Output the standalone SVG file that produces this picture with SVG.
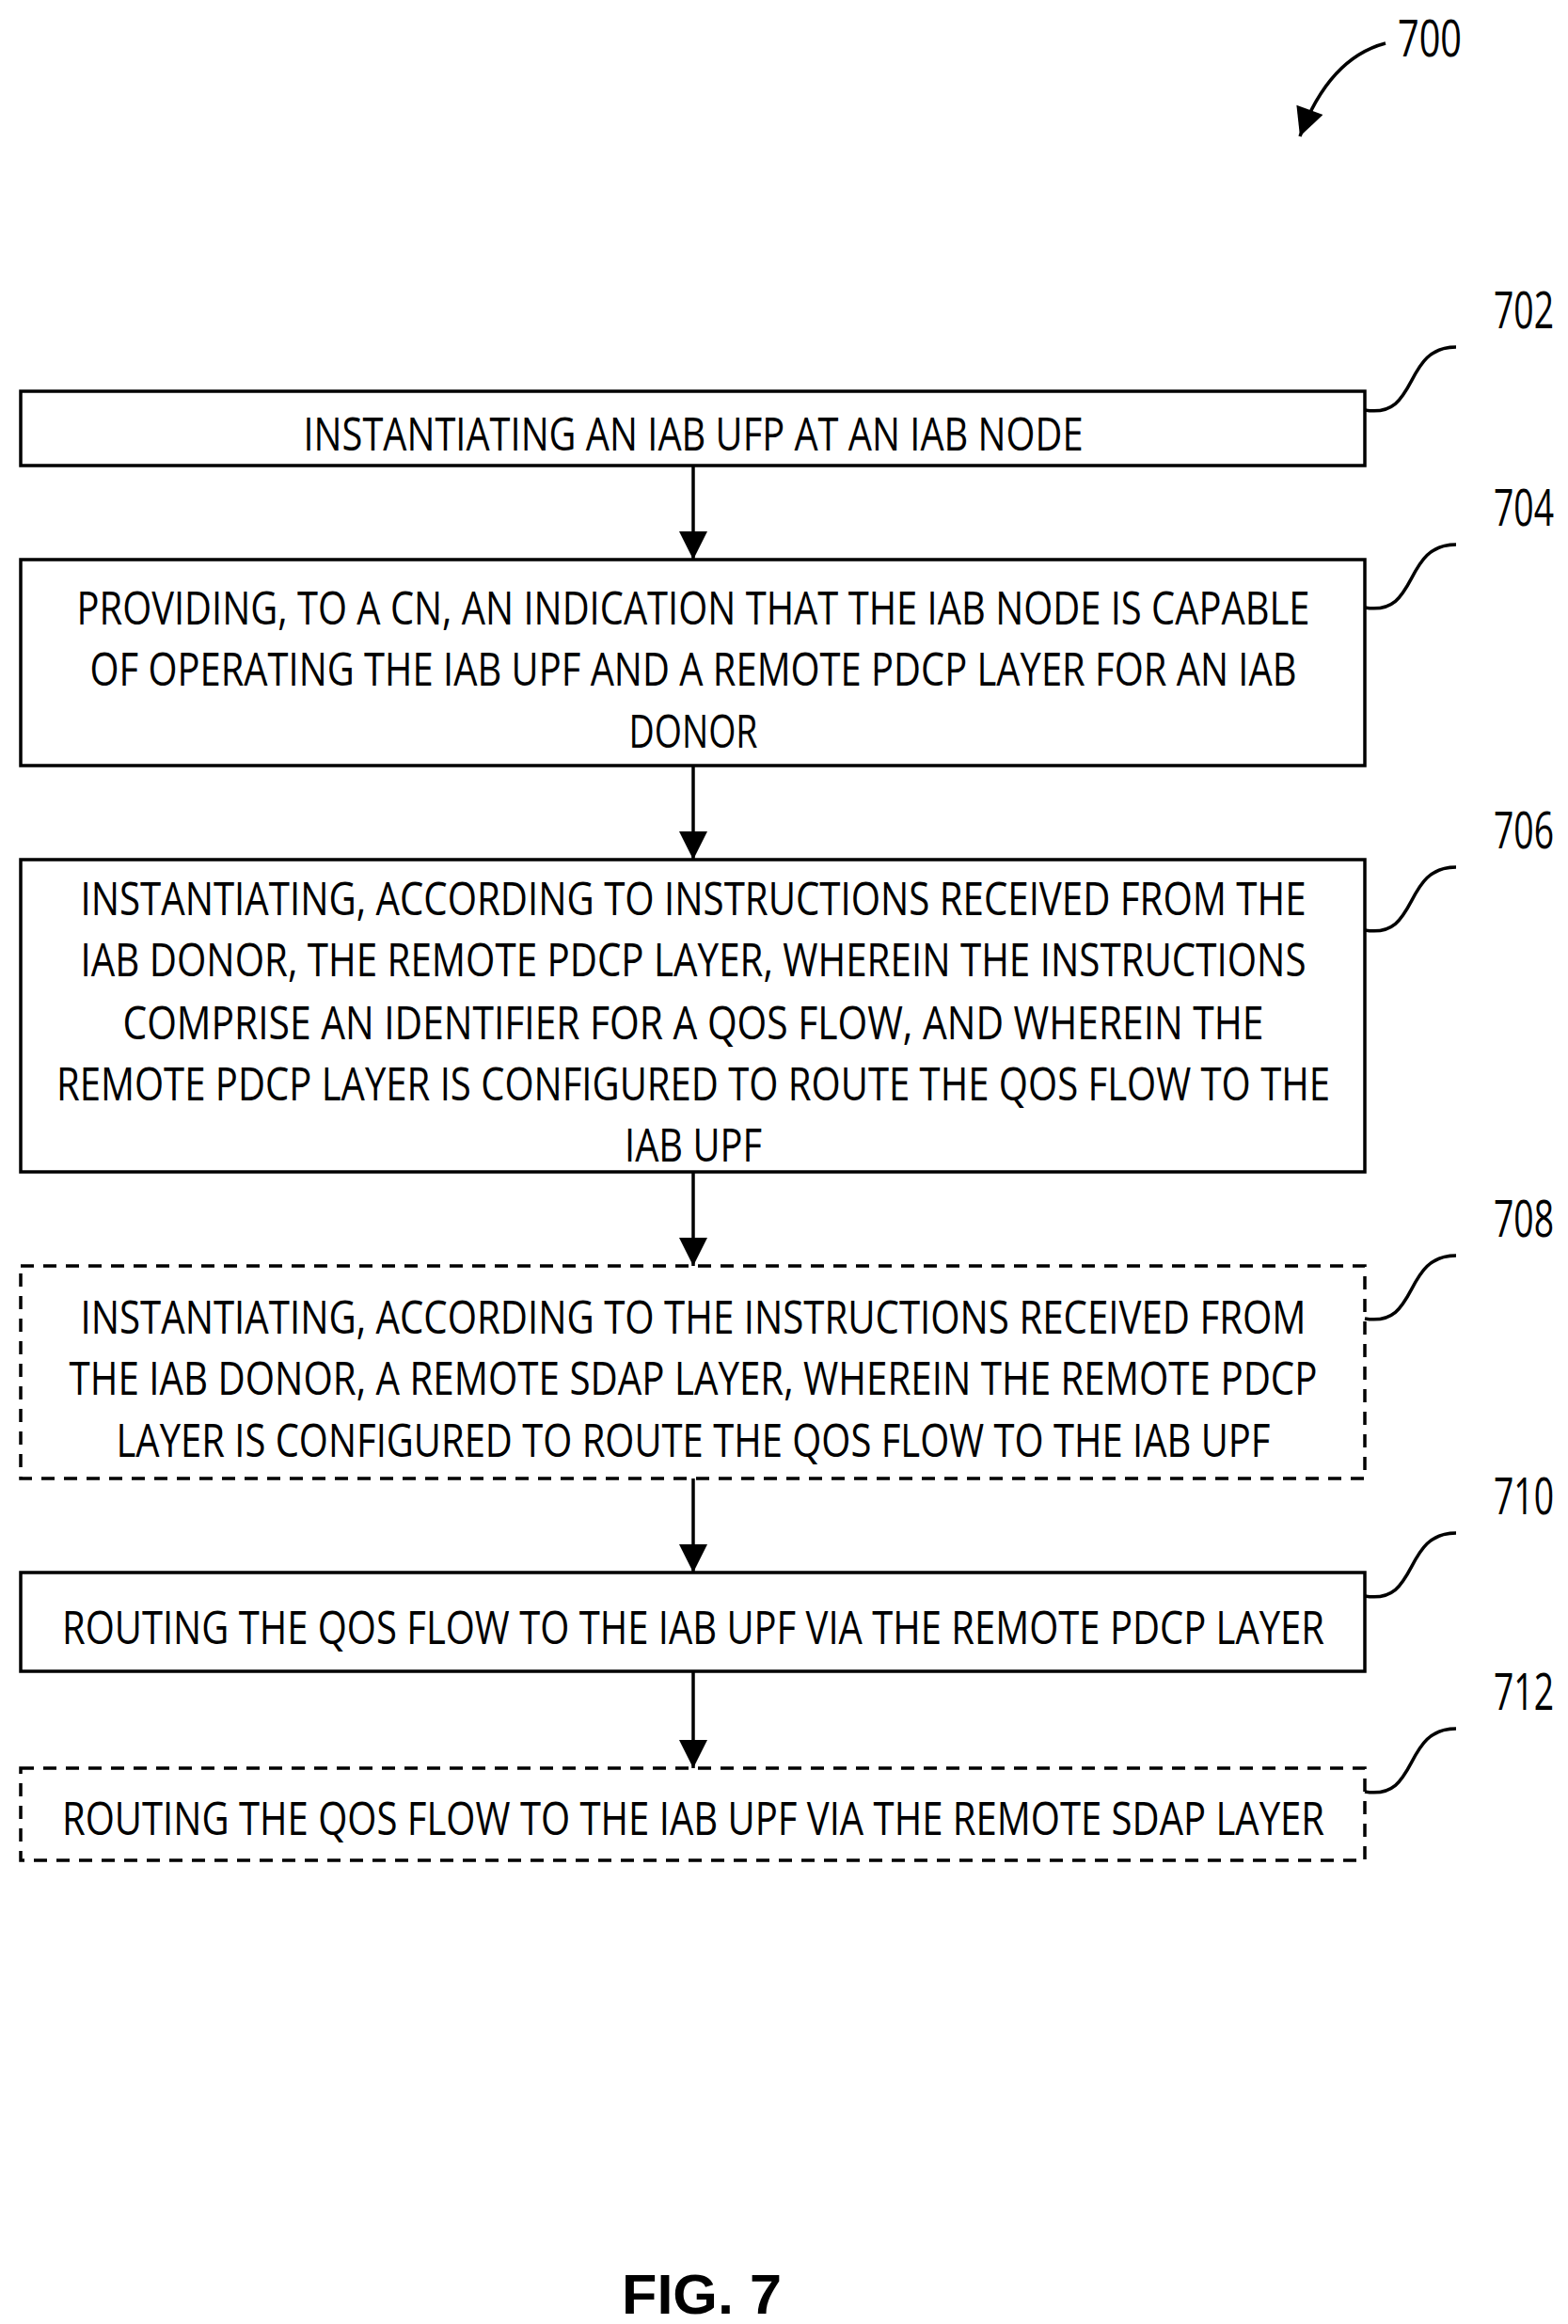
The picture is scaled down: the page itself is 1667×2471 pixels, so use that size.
<svg xmlns="http://www.w3.org/2000/svg" width="1667" height="2471" viewBox="0 0 1667 2471">
<style>
.box{fill:#fff;stroke:#000;stroke-width:3.5}
.dash{stroke-dasharray:14 10}
.t{font-family:"Open Sans","Liberation Sans",sans-serif;font-size:50px;text-anchor:middle;fill:#000}
.lb{font-family:"Open Sans","Liberation Sans",sans-serif;font-size:54px;fill:#000}
.c{fill:none;stroke:#000;stroke-width:3.5}
</style>
<defs>
<marker id="ah2" viewBox="0 0 10 10" refX="10" refY="5" markerWidth="40" markerHeight="30" orient="auto" markerUnits="userSpaceOnUse"><path d="M0,0 L10,5 L0,10 z"/></marker>
</defs>
<g id="ref700">
<text class="lb" x="1486" y="60" textLength="68" lengthAdjust="spacingAndGlyphs">700</text>
<path class="c" d="M1473,46 C1420,60 1395,110 1382,145" marker-end="url(#ah2)"/>
</g>
<g id="connectors">
<line class="c" x1="737" y1="495" x2="737" y2="595" marker-end="url(#ah2)"/>
<line class="c" x1="737" y1="814" x2="737" y2="914" marker-end="url(#ah2)"/>
<line class="c" x1="737" y1="1246" x2="737" y2="1346" marker-end="url(#ah2)"/>
<line class="c" x1="737" y1="1572" x2="737" y2="1672" marker-end="url(#ah2)"/>
<line class="c" x1="737" y1="1777" x2="737" y2="1880" marker-end="url(#ah2)"/>
</g>
<g id="n702">
<rect class="box" x="22" y="416" width="1429" height="79"/>
<text class="t" x="737" y="479" textLength="829" lengthAdjust="spacingAndGlyphs">INSTANTIATING AN IAB UFP AT AN IAB NODE</text>
<text class="lb" x="1588" y="349" textLength="64" lengthAdjust="spacingAndGlyphs">702</text>
<path class="c" d="M1451,436 C1510,446 1490,369 1548,369"/>
</g>
<g id="n704">
<rect class="box" x="22" y="595" width="1429" height="219"/>
<text class="t" x="737" y="664" textLength="1311" lengthAdjust="spacingAndGlyphs">PROVIDING, TO A CN, AN INDICATION THAT THE IAB NODE IS CAPABLE</text>
<text class="t" x="737" y="729" textLength="1283" lengthAdjust="spacingAndGlyphs">OF OPERATING THE IAB UPF AND A REMOTE PDCP LAYER FOR AN IAB</text>
<text class="t" x="737" y="795" textLength="137" lengthAdjust="spacingAndGlyphs">DONOR</text>
<text class="lb" x="1588" y="559" textLength="64" lengthAdjust="spacingAndGlyphs">704</text>
<path class="c" d="M1451,646 C1510,656 1490,579 1548,579"/>
</g>
<g id="n706">
<rect class="box" x="22" y="914" width="1429" height="332"/>
<text class="t" x="737" y="973" textLength="1303" lengthAdjust="spacingAndGlyphs">INSTANTIATING, ACCORDING TO INSTRUCTIONS RECEIVED FROM THE</text>
<text class="t" x="737" y="1038" textLength="1303" lengthAdjust="spacingAndGlyphs">IAB DONOR, THE REMOTE PDCP LAYER, WHEREIN THE INSTRUCTIONS</text>
<text class="t" x="737" y="1105" textLength="1213" lengthAdjust="spacingAndGlyphs">COMPRISE AN IDENTIFIER FOR A QOS FLOW, AND WHEREIN THE</text>
<text class="t" x="737" y="1170" textLength="1354" lengthAdjust="spacingAndGlyphs">REMOTE PDCP LAYER IS CONFIGURED TO ROUTE THE QOS FLOW TO THE</text>
<text class="t" x="737" y="1235" textLength="146" lengthAdjust="spacingAndGlyphs">IAB UPF</text>
<text class="lb" x="1588" y="902" textLength="64" lengthAdjust="spacingAndGlyphs">706</text>
<path class="c" d="M1451,989 C1510,999 1490,922 1548,922"/>
</g>
<g id="n708">
<rect class="box dash" x="22" y="1346" width="1429" height="226"/>
<text class="t" x="737" y="1418" textLength="1303" lengthAdjust="spacingAndGlyphs">INSTANTIATING, ACCORDING TO THE INSTRUCTIONS RECEIVED FROM</text>
<text class="t" x="737" y="1483" textLength="1327" lengthAdjust="spacingAndGlyphs">THE IAB DONOR, A REMOTE SDAP LAYER, WHEREIN THE REMOTE PDCP</text>
<text class="t" x="737" y="1549" textLength="1227" lengthAdjust="spacingAndGlyphs">LAYER IS CONFIGURED TO ROUTE THE QOS FLOW TO THE IAB UPF</text>
<text class="lb" x="1588" y="1315" textLength="64" lengthAdjust="spacingAndGlyphs">708</text>
<path class="c" d="M1451,1402 C1510,1412 1490,1335 1548,1335"/>
</g>
<g id="n710">
<rect class="box" x="22" y="1672" width="1429" height="105"/>
<text class="t" x="737" y="1748" textLength="1342" lengthAdjust="spacingAndGlyphs">ROUTING THE QOS FLOW TO THE IAB UPF VIA THE REMOTE PDCP LAYER</text>
<text class="lb" x="1588" y="1610" textLength="64" lengthAdjust="spacingAndGlyphs">710</text>
<path class="c" d="M1451,1697 C1510,1707 1490,1630 1548,1630"/>
</g>
<g id="n712">
<rect class="box dash" x="22" y="1880" width="1429" height="98"/>
<text class="t" x="737" y="1951" textLength="1342" lengthAdjust="spacingAndGlyphs">ROUTING THE QOS FLOW TO THE IAB UPF VIA THE REMOTE SDAP LAYER</text>
<text class="lb" x="1588" y="1818" textLength="64" lengthAdjust="spacingAndGlyphs">712</text>
<path class="c" d="M1451,1905 C1510,1915 1490,1838 1548,1838"/>
</g>
<text id="fig" x="746" y="2460" font-family="Liberation Sans,Arial,sans-serif" font-weight="bold" font-size="60" text-anchor="middle" textLength="170" lengthAdjust="spacingAndGlyphs">FIG. 7</text>
</svg>
